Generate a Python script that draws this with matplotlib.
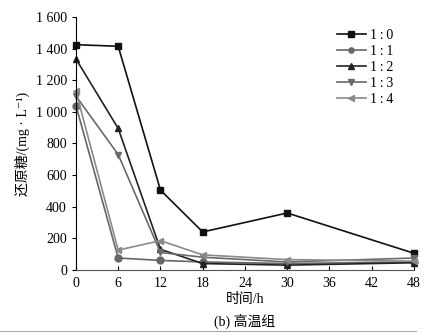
import matplotlib
matplotlib.use("Agg")
import matplotlib.pyplot as plt

plt.rcParams['font.family'] = ['Liberation Serif', 'Noto Sans CJK SC', 'DejaVu Serif']

hours = [0, 6, 12, 18, 30, 48]
ratios = ['1\u2009:\u20090', '1\u2009:\u20091', '1\u2009:\u20092', '1\u2009:\u20093', '1\u2009:\u20094']
sugar_10 = [1425, 1415, 505, 240, 360, 105]
sugar_11 = [1040, 75, 60, 50, 40, 50]
sugar_12 = [1335, 895, 130, 40, 30, 45]
sugar_13 = [1100, 730, 110, 80, 50, 75]
sugar_14 = [1130, 125, 185, 95, 65, 55]
yticks = [0, 200, 400, 600, 800, 1000, 1200, 1400, 1600]
ytick_labels = ['0', '200', '400', '600', '800', '1 000', '1 200', '1 400', '1 600']
xticks = [0, 6, 12, 18, 24, 30, 36, 42, 48]

series = [sugar_10, sugar_11, sugar_12, sugar_13, sugar_14]
markers = ['s', 'o', '^', 'v', '<']
colors = ['#111111', '#666666', '#222222', '#6a6a6a', '#8a8a8a']

fig = plt.figure(figsize=(4.29, 3.34), dpi=100)
ax = fig.add_axes([0.177, 0.192, 0.788, 0.757])

for vals, lab, m, c in zip(series, ratios, markers, colors):
    ax.plot(hours, vals, marker=m, color=c, label=lab, linewidth=1.2, markersize=5, clip_on=False)

ax.set_xlim(0, 48)
ax.set_ylim(0, 1600)
ax.set_xticks(xticks)
ax.set_yticks(yticks)
ax.set_yticklabels(ytick_labels)
ax.spines['top'].set_visible(False)
ax.spines['right'].set_visible(False)
ax.spines['bottom'].set_color('#555555')
ax.tick_params(axis='x', direction='in', length=3, labelsize=10, pad=5)
ax.tick_params(axis='y', direction='out', length=3, labelsize=10)

ax.set_xlabel('时间/h', fontsize=10, labelpad=2)
ax.set_ylabel('还原糖/(mg · L⁻¹)', fontsize=10, labelpad=4)

ax.legend(loc='upper right', bbox_to_anchor=(0.96, 0.98), frameon=False, fontsize=10,
          handlelength=2.1, handletextpad=0.3, labelspacing=0.22, borderpad=0, markerscale=0.75)

fig.text(0.571, 0.035, '(b) 高温组', ha='center', va='center', fontsize=10)
fig.add_artist(plt.Line2D([0, 0.97], [0.008, 0.008], color='#aaaaaa', linewidth=0.8))

fig.savefig('out.png', dpi=100)
